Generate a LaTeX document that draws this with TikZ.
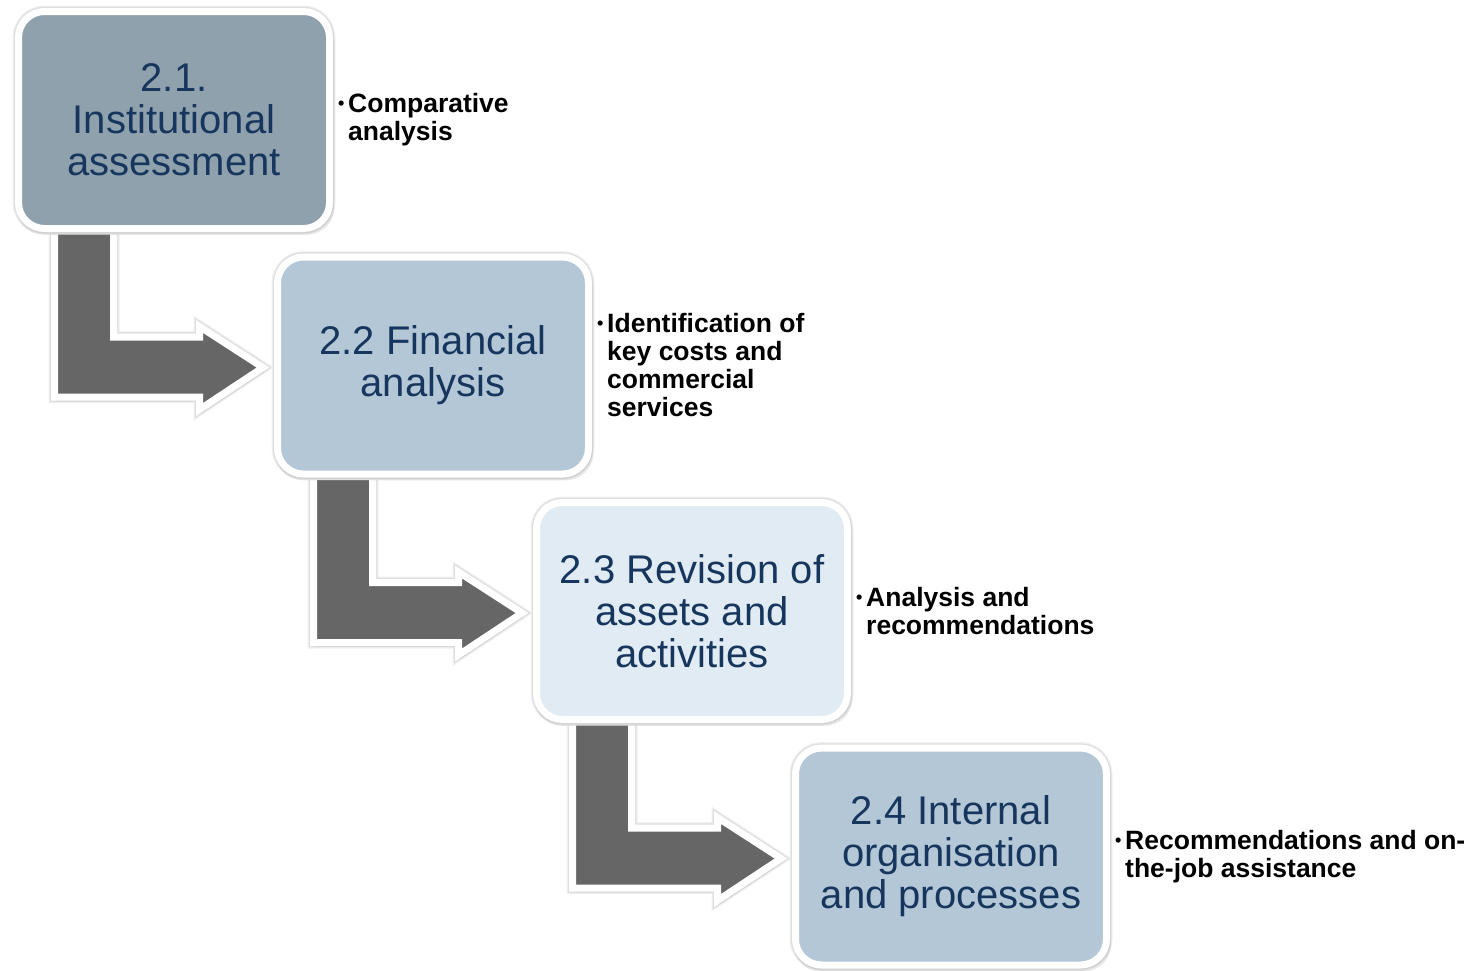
\documentclass[tikz,border=0pt]{standalone}
\usepackage{fontspec}
\setmainfont{Liberation Sans}
\usepackage{tikz}
\usetikzlibrary{calc, positioning, shadows, backgrounds}
\definecolor{stagetext}{HTML}{17365D}
\definecolor{stagedark}{HTML}{8FA1AD}
\definecolor{stagemid}{HTML}{B4C7D7}
\definecolor{stagelight}{HTML}{E1EBF4}
\definecolor{arrowgrey}{HTML}{666666}
\tikzstyle{halo} = [preaction={draw=black!6, line width=12pt}, preaction={draw=black!13, line width=9.5pt}]
\tikzstyle{stage} = [rectangle, rounded corners=26pt, halo, draw=white, line width=7pt, minimum width=311pt, minimum height=217pt, inner sep=0pt, align=center, text=stagetext, font=\fontsize{40}{42}\selectfont, drop shadow={shadow xshift=1.5pt, shadow yshift=-4pt, opacity=0.15, shadow scale=1.02}]
\tikzstyle{note} = [inner sep=0pt, align=left, font=\bfseries\fontsize{26.5}{28}\selectfont]
\tikzstyle{bentarrow} = [halo, draw=white, line width=7pt, fill=arrowgrey, drop shadow={shadow xshift=1.5pt, shadow yshift=-4pt, opacity=0.15}]
\newcommand{\notedot}{\makebox[10pt][l]{\raisebox{3pt}{\fontsize{18}{18}\selectfont\textbullet}}}
\newcommand{\notegap}{\hspace*{10pt}}
\newcommand{\stepArrow}[2]{%
	\draw [bentarrow] ($(#1.south west)+(39.5,-15)$) |- ($(#2.west)+(-74.5,31.5)$) -- ++(0,12.5) -- ($(#2.west)+(-11,2)$) -- ($(#2.west)+(-74.5,-39)$) -- ++(0,10.5) -| ($(#1.south west)+(98.5,-15)$) -- cycle;
}
\begin{document}
\begin{tikzpicture}[x=1pt, y=-1pt]
	\useasboundingbox (0,0) rectangle (1474,970);
	\node (Institutional) [stage, fill=stagedark] at (174,120) {2.1.\\Institutional\\assessment};
	\node (Financial) [stage, fill=stagemid, on grid, below right=245.5pt and 259pt of Institutional] {2.2 Financial\\analysis};
	\node (Revision) [stage, fill=stagelight, on grid, below right=245.5pt and 259pt of Financial] {2.3 Revision of\\assets and\\activities};
	\node (Internal) [stage, fill=stagemid, on grid, below right=245.5pt and 259pt of Revision] {2.4 Internal\\organisation\\and processes};
	\node (InstitutionalNote) [note, right=5pt of Institutional] {\notedot Comparative\\\notegap analysis};
	\node (FinancialNote) [note, right=5pt of Financial] {\notedot Identification of\\\notegap key costs and\\\notegap commercial\\\notegap services};
	\node (RevisionNote) [note, right=5pt of Revision] {\notedot Analysis and\\\notegap recommendations};
	\node (InternalNote) [note, right=5pt of Internal] {\notedot Recommendations and on-\\\notegap the-job assistance};
	\begin{scope}[on background layer]
		\stepArrow{Institutional}{Financial}
		\stepArrow{Financial}{Revision}
		\stepArrow{Revision}{Internal}
	\end{scope}
\end{tikzpicture}
\end{document}
